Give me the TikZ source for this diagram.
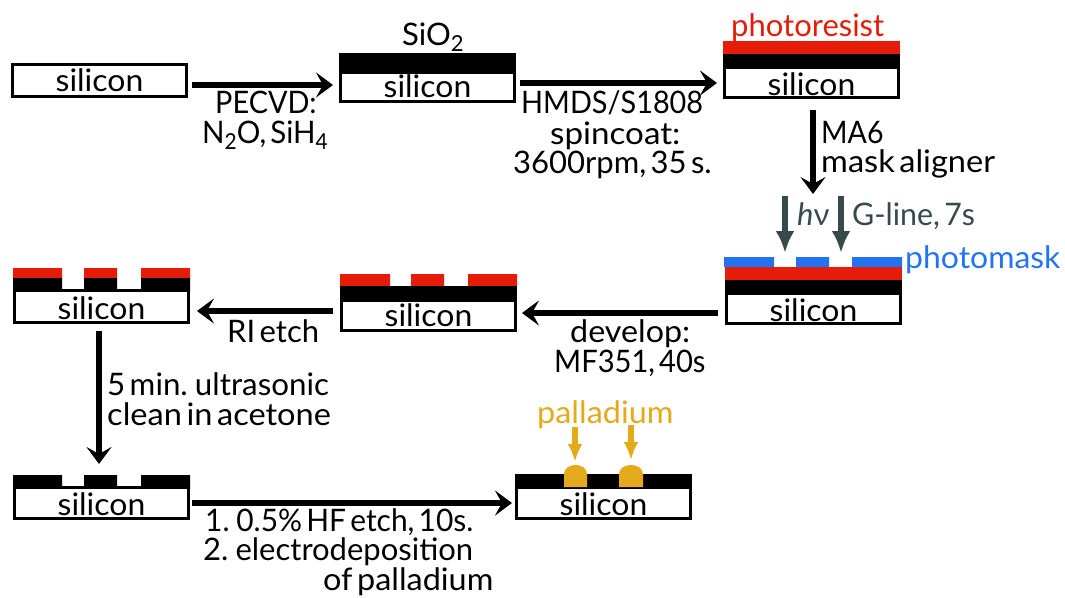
\documentclass[tikz,border=0pt]{standalone}
\usepackage{fontspec}
\usepackage{graphicx}
\setmainfont[WordSpace=0.55]{Lato}
\usetikzlibrary{arrows.meta}
\definecolor{resist}{HTML}{E71B0A}
\definecolor{maskblue}{HTML}{2274F2}
\definecolor{uvgrey}{HTML}{364A4B}
\definecolor{pdgold}{HTML}{E5A91C}
\newcommand{\subs}[1]{\raisebox{-6pt}{\fontsize{22}{22}\selectfont #1}}
\newcommand{\sx}[2]{\scalebox{#1}[1]{#2}}
\newcommand{\sil}{\sx{1.03}{silicon}}
\tikzset{
  x=1pt,y=-1pt,
  txt/.style={anchor=base west,inner sep=0pt,font=\fontsize{31}{33}\selectfont},
  si/.style={draw=black,line width=3pt,fill=white,inner sep=0pt,outer sep=0pt,anchor=north west,minimum width=174pt,font=\fontsize{31}{33}\selectfont},
  low/.style={text height=25pt,text depth=0pt},
  flow/.style={line width=6pt,draw=black,-{Stealth[length=17pt,width=25pt,inset=7pt]}},
  uv/.style={line width=6pt,draw=uvgrey,-{Latex[length=22pt,width=19pt]}},
  pd/.style={line width=6pt,draw=pdgold,-{Latex[length=18pt,width=15pt]}},
}
\begin{document}
\begin{tikzpicture}
\useasboundingbox (0,0) rectangle (1065,597);
% row 1
\node[si,minimum height=32pt] (a) at (12.5,64.5) {\sil};
\fill (339,53) rectangle (516,73);
\node[si,minimum height=29pt] (b) at (340.5,72) {\sil};
\fill[resist] (723,41) rectangle (900,54);
\fill (723,54) rectangle (900,68);
\node[si,low,minimum height=30pt] (c) at (724.5,67.5) {\sil};
\node[txt] (t1) at (402,45) {SiO\subs{2}};
\node[txt,text=resist] (t2) at (731,36) {photoresist};
\draw[flow] ([xshift=5.5pt,yshift=-4.5pt]a.east) -- ([xshift=-7.5pt,yshift=1.5pt]b.west);
\draw[flow] ([xshift=5.5pt,yshift=3.5pt]b.east) -- ([xshift=-7.5pt,yshift=-0.5pt]c.west);
\node[txt] (t3) at (215,113) {\sx{0.93}{PECVD:}};
\node[txt] (t4) at (202,143) {\sx{0.95}{N\subs{2}O, SiH\subs{4}}};
\node[txt] (t5) at (521,113) {\sx{0.93}{HMDS/S1808}};
\node[txt] (t6) at (550,144) {\sx{1.07}{spincoat:}};
\node[txt] (t7) at (513,173) {3600rpm, 35 s.};
% photomask stack
\fill[maskblue] (724,257) rectangle (774,267) (796,257) rectangle (829,267) (852,257) rectangle (902,267);
\fill[resist] (725,267) rectangle (902,280);
\fill (725,280) rectangle (902,294);
\node[si,low,minimum height=30pt] (d) at (726.5,293.5) {\sil};
\draw[flow] ([xshift=1.5pt,yshift=-12.5pt]c.south) -- ([xshift=-0.5pt,yshift=99.5pt]d.north);
\node[txt] (t8) at (821,143) {\sx{0.92}{MA6}};
\node[txt] (t9) at (821,172) {\sx{1.05}{mask aligner}};
\coordinate (u1) at (785,196);
\coordinate (u2) at (841,196);
\coordinate (u3) at (785,253);
\coordinate (u4) at (841,253);
\draw[uv] (u1) -- (u3);
\draw[uv] (u2) -- (u4);
\node[txt,text=uvgrey] (t10) at (797,225) {\textit{h}ν};
\node[txt,text=uvgrey] (t11) at (852,225) {\sx{0.98}{G-line, 7s}};
\node[txt,text=maskblue] (t12) at (905,268) {\sx{1.03}{photomask}};
% row 2 middle
\fill[resist] (340,274) rectangle (390,286) (411,274) rectangle (444,286) (468,274) rectangle (517,286);
\fill (340,286) rectangle (517,301);
\node[si,minimum height=30pt] (e) at (341.5,300) {\sil};
\draw[flow] ([xshift=-8.5pt,yshift=-4.5pt]d.west) -- ([xshift=6.5pt,yshift=2pt]e.east);
\node[txt] (t13) at (570,342) {\sx{1.04}{develop:}};
\node[txt] (t14) at (554,372) {\sx{0.94}{MF351, 40s}};
% row 2 left
\fill[resist] (13,268) rectangle (62,278) (84,268) rectangle (117,278) (141,268) rectangle (190,278);
\fill (13,278) rectangle (62,292) (84,278) rectangle (117,292) (141,278) rectangle (190,292);
\node[si,low,minimum height=32pt] (f) at (14.5,290.5) {\sil};
\draw[flow] ([xshift=-8.5pt,yshift=4pt]e.west) -- ([xshift=8.5pt,yshift=-4.5pt]f.east);
\node[txt] (t15) at (227,342) {RI etch};
% row 3 left
\fill (13,475) rectangle (62,489) (84,475) rectangle (117,489) (141,475) rectangle (190,489);
\node[si,low,minimum height=31pt] (g) at (14.5,487.5) {\sil};
\draw[flow] ([xshift=-2.5pt,yshift=-8.5pt]f.south) -- ([xshift=-2.5pt,yshift=23.5pt]g.north);
\node[txt] (t16) at (107,395) {\sx{1.01}{5 min. ultrasonic}};
\node[txt] (t17) at (107,425) {\sx{1.05}{clean in acetone}};
% row 3 right
\fill (515,474) rectangle (692,489);
\node[si,low,minimum height=31pt] (h) at (516.5,487.5) {\sil};
\fill[pdgold] (564,487) -- (564,474) .. controls (564,468) and (570,465) .. (575.5,465) .. controls (581,465) and (587,468) .. (587,474) -- (587,487) -- cycle;
\fill[pdgold] (619,487) -- (619,474) .. controls (619,468) and (625,465) .. (631,465) .. controls (637,465) and (643,468) .. (643,474) -- (643,487) -- cycle;
\coordinate (p1) at (575,427);
\coordinate (p2) at (575,462);
\coordinate (p3) at (631,425);
\coordinate (p4) at (631,460);
\draw[pd] (p1) -- (p2);
\draw[pd] (p3) -- (p4);
\node[txt,text=pdgold] (t18) at (537,423) {\sx{1.045}{palladium}};
\draw[flow] ([xshift=3.5pt]g.east) -- ([xshift=-4.5pt]h.west);
\node[txt] (t19) at (205,531) {\sx{0.965}{1. 0.5\% HF etch, 10s.}};
\node[txt] (t20) at (203,560) {2. electrodeposition};
\node[txt] (t21) at (323,590) {\sx{1.045}{of palladium}};
\end{tikzpicture}
\end{document}
